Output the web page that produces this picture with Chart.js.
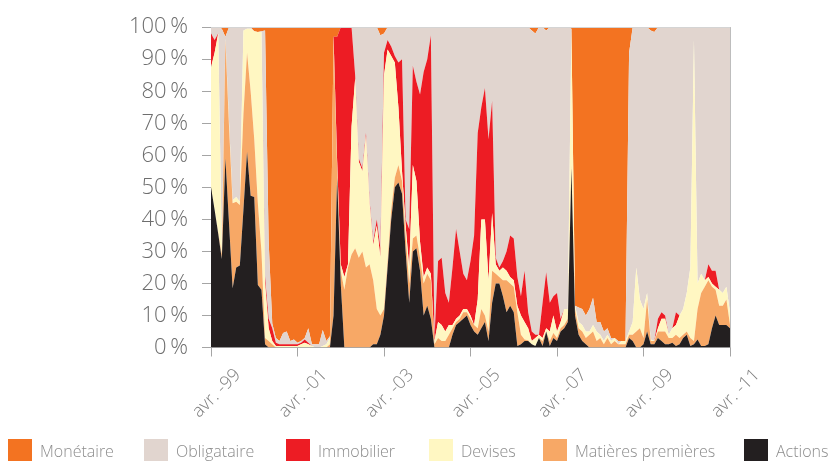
<!DOCTYPE html>
<html>
<head>
<meta charset="utf-8">
<script src="https://cdn.jsdelivr.net/npm/chart.js@4.4.1/dist/chart.umd.min.js"></script>
<style>
  html, body { margin: 0; padding: 0; background: #fff; }
  #wrap { position: relative; width: 829px; height: 461px; overflow: hidden; }
  #legende { position: absolute; left: 0; top: 439px; width: 829px; height: 22px; }
  .item { position: absolute; top: 0; height: 22px; white-space: nowrap;
          font: 300 16px "Open Sans", "Liberation Sans", sans-serif; color: #8d8d8d; }
  .item i { position: absolute; left: 0; top: 0; width: 24px; height: 22px; }
  .item span { position: absolute; left: 32px; top: 0; line-height: 24px; }
</style>
</head>
<body>
<div id="wrap">
  <canvas id="chart" width="829" height="461"></canvas>
  <div id="legende"></div>
</div>
<script>
// Parts mensuelles (en %), d'avril 1999 (indice 0) à avril 2011 (indice 144)
const xTickLabels = ['avr. -99', 'avr. -01', 'avr. -03', 'avr. -05', 'avr. -07', 'avr. -09', 'avr. -11'];

const actions = [
  50, 43, 35.5, 27.6, 59, 38.8, 18.5, 25, 25.6, 43,
  61, 47.4, 47, 19.5, 18, 1, 0, 0, 0, 0,
  0, 0, 0, 0, 0, 0, 0, 0, 0, 0,
  0, 0, 0, 0, 10, 53, 20, 0, 0, 0,
  0, 0, 0, 0, 0, 1, 1, 4, 10, 25,
  40, 50, 51.5, 48, 30, 14, 30, 31, 24, 10,
  13, 9, 0, 0, 0, 0, 0, 4, 7, 8,
  9, 10, 7, 5, 4, 6, 8, 2, 14, 20,
  20, 16, 11, 13, 11, 0.5, 1, 2, 2, 1,
  0.5, 3, 0.5, 5, 0.5, 3, 2, 5, 6, 8,
  56, 10, 4, 2, 1, 0, 0, 0, 0, 0,
  0, 0, 0, 0, 0, 0, 3, 2, 0, 0,
  1, 5, 1, 1, 3, 2, 1, 1, 1.5, 0.5,
  1, 3, 4, 0.5, 1, 2.5, 0.5, 0.5, 1, 6,
  10, 7, 7, 7, 6
];

const matieres = [
  0, 0, 0.5, 1.4, 37, 30.2, 26.5, 20.5, 18.9, 30,
  31, 32.6, 18, 25.5, 12, 2, 2, 1, 0, 0,
  0, 0, 0, 0, 0, 0, 0, 0, 0, 0,
  0, 0, 0, 1, 86, 3, 4, 18, 25, 29,
  31, 28, 30, 25, 26, 20, 11, 6, 2, 2,
  3, 3, 5.5, 4, 5, 6, 4, 4, 4, 10,
  10, 12, 1, 3, 2, 2, 4, 2, 1, 1,
  2, 1, 2, 2, 2, 6, 2, 3, 10, 3,
  2, 5, 10, 7, 8, 10.5, 3, 0.5, 0.3, 0,
  0, 0, 1.5, 0, 1.5, 1.5, 1, 1, 1, 1,
  1, 2, 2, 3, 2, 4, 5, 2, 3, 1,
  3, 1, 2, 1, 1, 1, 1, 2, 5, 6,
  2, 10, 1, 1, 2, 3, 4, 2, 1.5, 3.5,
  2, 1, 1, 2.5, 1, 9.5, 16.5, 18.5, 20, 13,
  8, 6, 6, 8, 1
];

const devises = [
  37.5, 49, 62, 2, 0.5, 1.5, 1, 1.5, 1, 26,
  7.5, 19.5, 33.7, 53.5, 68.5, 17, 4, 1, 0.5, 0.5,
  0.5, 0.5, 0.5, 0.5, 0.5, 1, 1.5, 1, 0.5, 0,
  0, 0.5, 1, 2, 1, 2, 2, 4, 1, 40,
  53, 30, 25, 41, 19, 11, 26, 18, 73, 66,
  48, 36, 18, 3, 3, 5, 23, 17, 5, 2,
  2, 2, 1, 5, 5, 3, 3, 1, 1, 1,
  1, 1, 1, 0, 9, 28, 30, 16, 18, 3,
  2, 4, 3, 2, 2, 2, 6, 5.5, 3.7, 1,
  2.5, 1, 1, 1, 3, 5.5, 2, 2, 5, 3,
  42, 1, 2, 2, 2, 1, 2, 3, 1, 1,
  1, 1, 1, 0, 1, 1, 1, 4, 20, 9,
  9, 2, 0.5, 0, 1, 4, 4, 1, 3, 3,
  7, 8, 12, 22, 94, 8, 6, 2, 1, 1,
  1, 5, 4, 4, 4
];

const immobilier = [
  10.5, 4, 0, 0, 0, 0, 0, 0, 0, 0,
  0, 0, 0, 0, 0, 2, 3, 4, 1, 0.5,
  0.5, 0.5, 0.5, 0.5, 0.5, 0.5, 1, 0.5, 0, 0,
  0, 0, 0, 0, 0, 39, 74, 78, 74, 31,
  1, 1, 1, 1, 1, 1, 2, 3, 7, 3,
  3, 2, 14, 35, 2, 12, 31, 31, 46, 64,
  65, 74.5, 1, 19, 21, 12, 7, 18, 28, 20,
  11, 9, 17, 28, 52, 35, 41, 44, 35, 2,
  1, 2, 6, 13, 13, 9, 6, 16, 5, 3,
  1, 0, 11, 17.5, 9, 6, 12, 1, 0, 0,
  0, 0, 0, 0, 0, 0, 0, 0, 0, 0,
  0, 0, 0, 0, 0, 0, 0, 0, 0, 0,
  0, 0, 0, 0, 3, 2, 1, 0, 0, 4,
  0, 0, 0, 0, 0, 0, 0, 0, 4, 4,
  5, 0, 0, 0, 0
];

const obligataire = [
  2, 4, 2, 68.5, 0.5, 29.5, 54, 53, 54.5, 1,
  0.5, 0.5, 0, 0, 0.2, 77, 24, 1.5, 1.5, 1,
  3.5, 4, 1, 1.5, 0.5, 0.5, 0.5, 4.5, 0.5, 1,
  1, 5, 1, 0.5, 0, 0, 0, 0, 0, 0,
  15, 41, 44, 33, 54, 67, 60, 66.5, 6, 4,
  6, 9, 11, 10, 60, 63, 12, 17, 21, 14,
  10, 2.5, 97, 73, 72, 83, 86, 75, 63, 70,
  77, 79, 73, 65, 33, 25, 19, 35, 23, 72,
  75, 73, 70, 65, 66, 78, 84, 76, 89, 94,
  94, 96, 86, 75.5, 86, 84, 83, 91, 88, 88,
  0.5, 0, 4.5, 5, 5, 7, 8.5, 3, 4, 3,
  2, 1, 0, 1, 0, 0, 87, 92, 75, 85,
  88, 83, 96.5, 96.5, 91, 89, 90, 96, 94, 89,
  90, 88, 83, 75, 4, 80, 77, 79, 74, 76,
  76, 82, 83, 81, 89
];

const monetaire = [
  0, 0, 0, 0.5, 3, 0, 0, 0, 0, 0,
  0, 0, 1.3, 1.5, 1.3, 1, 67, 92.5, 97, 98,
  95.5, 95, 98, 97.5, 98.5, 98, 97, 94, 99, 99,
  99, 94.5, 98, 96.5, 3, 3, 0, 0, 0, 0,
  0, 0, 0, 0, 0, 0, 0, 2.5, 2, 0,
  0, 0, 0, 0, 0, 0, 0, 0, 0, 0,
  0, 0, 0, 0, 0, 0, 0, 0, 0, 0,
  0, 0, 0, 0, 0, 0, 0, 0, 0, 0,
  0, 0, 0, 0, 0, 0, 0, 0, 0, 1,
  2, 0, 0, 1, 0, 0, 0, 0, 0, 0,
  0.5, 87, 87.5, 88, 90, 88, 84.5, 92, 92, 95,
  94, 97, 97, 98, 98, 98, 8, 0, 0, 0,
  0, 0, 1, 1.5, 0, 0, 0, 0, 0, 0,
  0, 0, 0, 0, 0, 0, 0, 0, 0, 0,
  0, 0, 0, 0, 0
];

// ordre d'empilement : du bas vers le haut
const series = [
  { label: 'Actions', data: actions, color: '#231f20' },
  { label: 'Matières premières', data: matieres, color: '#f7a866' },
  { label: 'Devises', data: devises, color: '#fff7c2' },
  { label: 'Immobilier', data: immobilier, color: '#ed1c24' },
  { label: 'Obligataire', data: obligataire, color: '#e1d5cf' },
  { label: 'Monétaire', data: monetaire, color: '#f37321' }
];

// abscisse de chaque case de légende (Monétaire ... Actions)
const legendeX = [8, 144, 286, 429, 543, 744];

const FONT = '"Open Sans", "Liberation Sans", sans-serif';

// cadre fin en haut et à droite de la zone de tracé
const cadre = {
  id: 'cadre',
  afterDraw(chart) {
    const { ctx, chartArea: a } = chart;
    ctx.save();
    ctx.lineWidth = 1;
    ctx.strokeStyle = '#d4d4d4';
    ctx.beginPath();
    ctx.moveTo(a.left, Math.round(a.top) + 0.5);
    ctx.lineTo(a.right + 1, Math.round(a.top) + 0.5);
    ctx.stroke();
    ctx.strokeStyle = '#bdbdbd';
    ctx.beginPath();
    ctx.moveTo(Math.round(a.right) + 0.5, a.top);
    ctx.lineTo(Math.round(a.right) + 0.5, a.bottom);
    ctx.stroke();
    ctx.restore();
  }
};

const chart = new Chart(document.getElementById('chart'), {
  type: 'line',
  data: {
    datasets: series.map((s, i) => ({
      label: s.label,
      data: s.data.map((v, k) => ({ x: k, y: v })),
      backgroundColor: s.color,
      borderColor: s.color,
      borderWidth: 0,
      pointRadius: 0,
      tension: 0,
      fill: i === 0 ? 'origin' : '-1'
    }))
  },
  options: {
    responsive: false,
    animation: false,
    devicePixelRatio: 1,
    layout: { padding: { top: 19, right: 0, left: 0, bottom: 41.5 } },
    plugins: {
      tooltip: { enabled: false },
      legend: { display: false }
    },
    scales: {
      x: {
        type: 'linear',
        min: 0,
        max: 144,
        afterFit: (scale) => { scale.height = 72; },
        grid: { drawOnChartArea: false, drawTicks: true, tickLength: 9, color: '#a5a5a5' },
        border: { color: '#a5a5a5' },
        ticks: {
          stepSize: 24,
          autoSkip: false,
          maxRotation: 45,
          minRotation: 45,
          labelOffset: 27,
          padding: 8,
          color: '#808080',
          font: { family: FONT, size: 18, weight: '300' },
          callback: (v) => xTickLabels[v / 24]
        }
      },
      y: {
        stacked: true,
        min: 0,
        max: 100,
        afterFit: (scale) => { scale.width = 211; },
        grid: { drawOnChartArea: false, drawTicks: true, tickLength: 9, color: '#a5a5a5' },
        border: { color: '#a5a5a5' },
        ticks: {
          stepSize: 10,
          padding: 14,
          color: '#6e6e6e',
          font: { family: FONT, size: 22, weight: '300' },
          callback: (v) => v + '\u2009%'
        }
      },
      // marge droite : axe vide qui réserve l'espace
      marge: {
        position: 'right',
        afterFit: (scale) => { scale.width = 99; },
        grid: { display: false },
        border: { display: false },
        ticks: { display: false }
      }
    }
  },
  plugins: [cadre]
});

// légende : même ordre que la pile, du haut vers le bas
const legende = document.getElementById('legende');
series.slice().reverse().forEach((s, i) => {
  const item = document.createElement('div');
  item.className = 'item';
  item.style.left = legendeX[i] + 'px';
  item.innerHTML = '<i style="background:' + s.color + '"></i><span>' + s.label + '</span>';
  legende.appendChild(item);
});
</script>
</body>
</html>
